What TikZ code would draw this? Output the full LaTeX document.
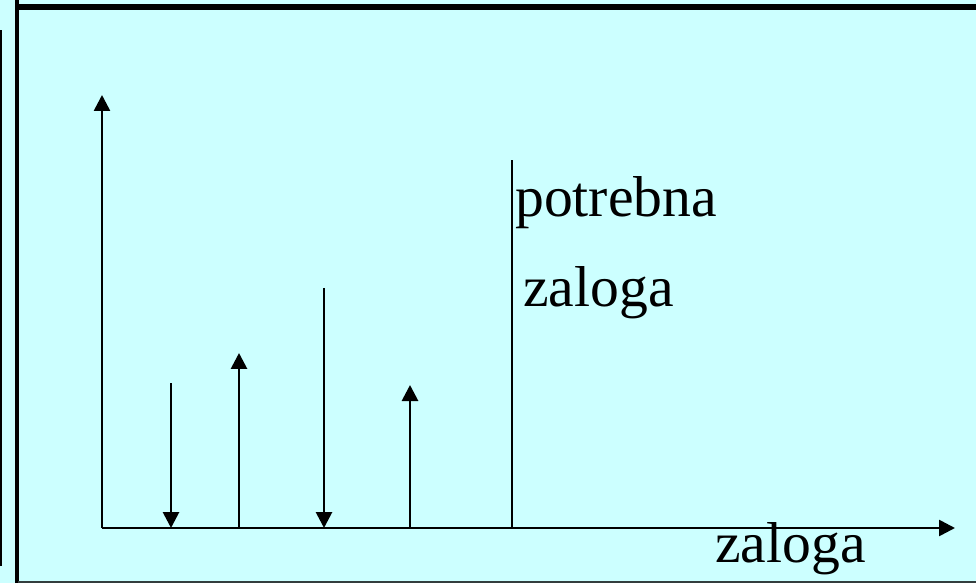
\documentclass[tikz,border=0pt]{standalone}
\usepackage{fontspec}
\setmainfont{Liberation Serif}
\usepackage{tikz}
\usetikzlibrary{arrows.meta}
\definecolor{stockcyan}{RGB}{204,255,255}
\definecolor{stockgray}{RGB}{51,61,61}

\begin{document}
\begin{tikzpicture}[
      axis/.style={line width=0.065cm, -{Triangle[length=0.4cm, width=0.4cm]}},
      flow/.style={line width=0.07cm, -{Triangle[length=0.4cm, width=0.4cm]}},
      label/.style={anchor=base west, inner sep=0pt, font=\fontsize{41}{44}\selectfont}
    ]
      \useasboundingbox (0,0) rectangle (24.4,14.575);
      \fill[stockcyan] (0,0) rectangle (24.4,14.575);

      % frame
      \draw[line width=0.05cm] (0.025,0.425) -- (0.025,13.825);
      \draw[line width=0.1cm] (0.425,0) -- (0.425,14.575);
      \draw[line width=0.15cm] (0.375,14.39) -- (24.4,14.39);
      \draw[line width=0.05cm, stockgray] (0.45,0.03) -- (24.4,0.03);

      \coordinate (o) at (2.55,1.375);
      \coordinate (ytop) at (2.55,12.2);
      \coordinate (xend) at (23.875,1.375);
      \draw[axis] (o) -- (ytop);
      \draw[axis] (o) -- (xend);

      \coordinate (d1top) at (4.275,5.0);
      \coordinate (d1bot) at (4.275,1.375);
      \coordinate (u1bot) at (5.975,1.375);
      \coordinate (u1top) at (5.975,5.75);
      \coordinate (d2top) at (8.1,7.375);
      \coordinate (d2bot) at (8.1,1.375);
      \coordinate (u2bot) at (10.25,1.375);
      \coordinate (u2top) at (10.25,4.95);
      \coordinate (sbot) at (12.8,1.375);
      \coordinate (stop) at (12.8,10.575);

      \draw[flow] (d1top) -- (d1bot);
      \draw[flow] (u1bot) -- (u1top);
      \draw[flow] (d2top) -- (d2bot);
      \draw[flow] (u2bot) -- (u2top);
      \draw[line width=0.06cm] (sbot) -- (stop);

      \node[label] (need) at (12.875,9.15) {potrebna};
      \node[label] (needstock) at (13.075,6.9) {zaloga};
      \node[label] (stock) at (17.875,0.525) {zaloga};
    \end{tikzpicture}
\end{document}
